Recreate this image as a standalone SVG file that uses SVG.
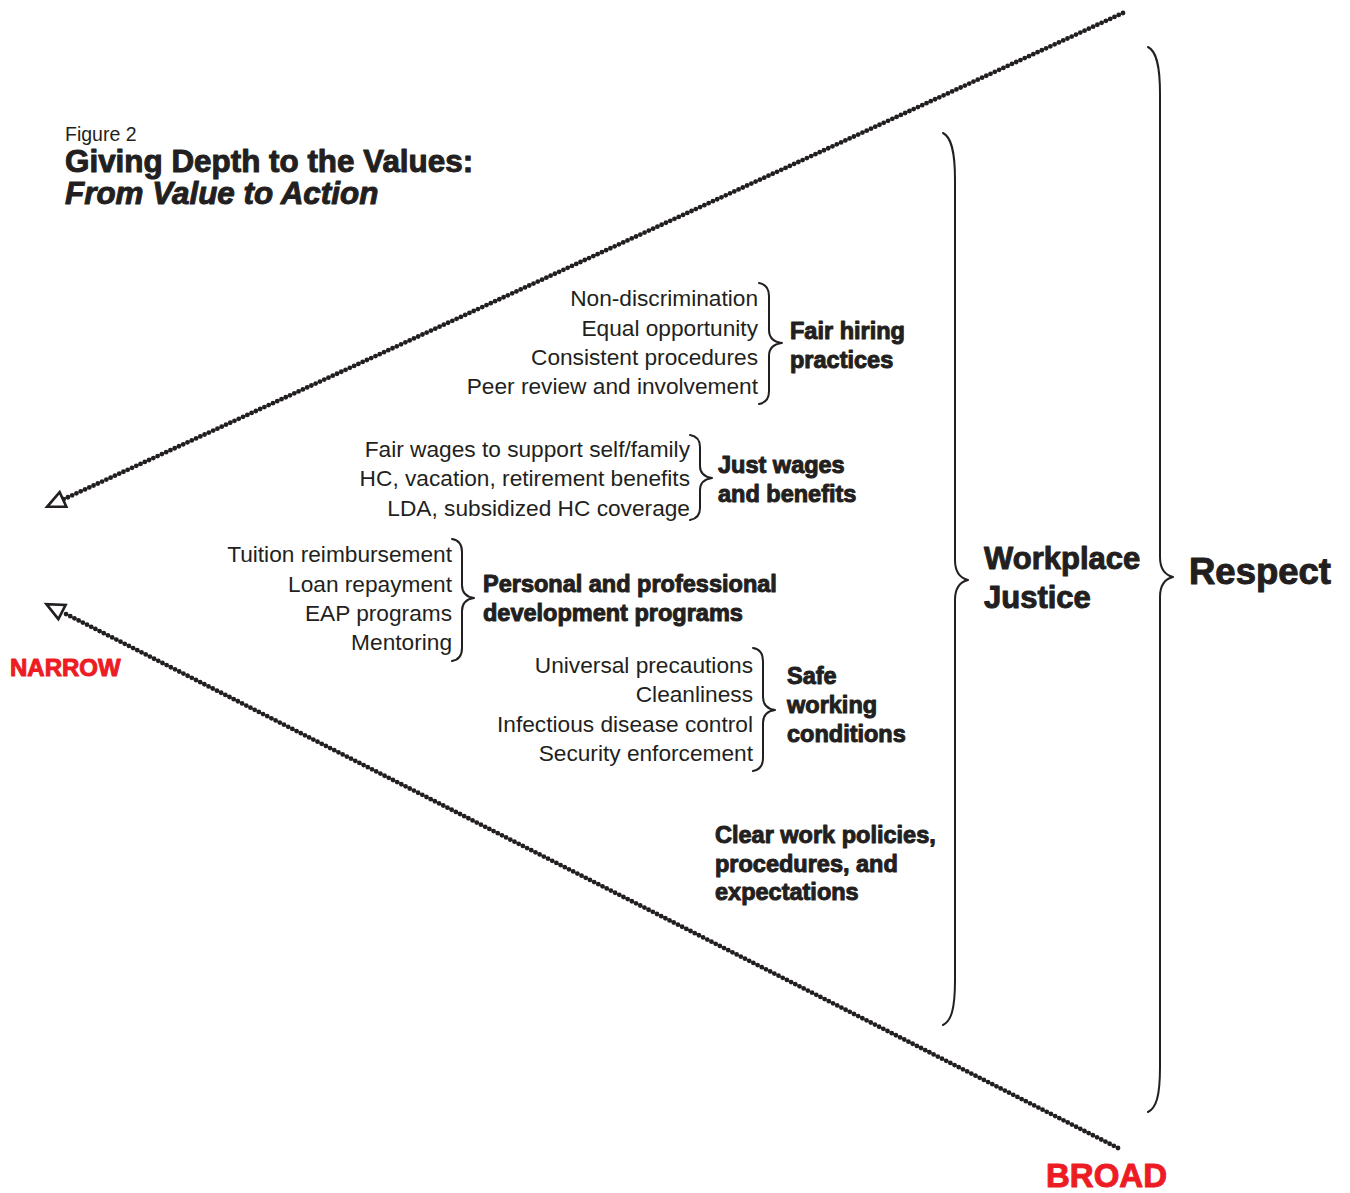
<svg xmlns="http://www.w3.org/2000/svg" width="1350" height="1193" viewBox="0 0 1350 1193">
  <style>
    .item { font-family: "Liberation Sans", Arial, sans-serif; font-size: 22.7px; fill: #231f20; text-anchor: end; }
    .hv { font-family: "Liberation Sans", Arial, sans-serif; font-weight: 700; fill: #231f20; stroke: #231f20; stroke-width: 1px; stroke-linejoin: round; }
    .lbl { font-size: 23.5px; }
    .red { fill: #ed1c24; stroke: #ed1c24; }
    .brace { fill: none; stroke: #231f20; stroke-width: 2; stroke-linecap: round; stroke-linejoin: round; }
    .dots { fill: none; stroke: #231f20; stroke-width: 4.8; stroke-linecap: round; stroke-dasharray: 0 4.7; }
  </style>
  <defs>
    <marker id="openhead" markerUnits="userSpaceOnUse" viewBox="-3 -11 24 22" markerWidth="24" markerHeight="22" refX="0" refY="0" orient="auto" overflow="visible">
      <path d="M0,-8 L17.5,0 L0,8 Z" fill="#ffffff" stroke="#231f20" stroke-width="2.6" stroke-linejoin="miter"/>
    </marker>
  </defs>
  <rect width="1350" height="1193" fill="#ffffff"/>

  <!-- title block -->
  <g id="title">
    <text x="65" y="141" font-family="Liberation Sans, Arial, sans-serif" font-size="19.5" fill="#231f20">Figure 2</text>
    <text class="hv" x="65" y="172" font-size="31.4">Giving Depth to the Values:</text>
    <text class="hv" x="65" y="204" font-size="31.4" font-style="italic">From Value to Action</text>
  </g>

  <!-- funnel lines -->
  <g id="connectors">
    <line class="dots" x1="1123" y1="13" x2="63" y2="499.5" marker-end="url(#openhead)"/>
    <line class="dots" x1="1118" y1="1148" x2="62" y2="612" marker-end="url(#openhead)"/>
  </g>

  <g id="narrow">
    <text class="hv red" x="10" y="676" font-size="24">NARROW</text>
  </g>
  <g id="broad">
    <text class="hv red" x="1046" y="1187" font-size="33">BROAD</text>
  </g>

  <!-- Fair hiring practices -->
  <g id="fair-hiring">
    <text class="item" x="758" y="306">Non-discrimination</text>
    <text class="item" x="758" y="336">Equal opportunity</text>
    <text class="item" x="758" y="365">Consistent procedures</text>
    <text class="item" x="758" y="394">Peer review and involvement</text>
    <path class="brace" d="M759,283 C765,284 769,288 769,296 L769,330 C769,338 774,342 782,343 C774,344 769,348 769,356 L769,391 C769,399 765,403 759,404"/>
    <text class="hv lbl" x="790" y="339">Fair hiring</text>
    <text class="hv lbl" x="790" y="368">practices</text>
  </g>

  <!-- Just wages and benefits -->
  <g id="just-wages">
    <text class="item" x="690" y="457">Fair wages to support self/family</text>
    <text class="item" x="690" y="486">HC, vacation, retirement benefits</text>
    <text class="item" x="690" y="516">LDA, subsidized HC coverage</text>
    <path class="brace" d="M690,435 C696,436 700,440 700,447 L700,466 C700,473 705,477 712,478 C705,479 700,483 700,490 L700,508 C700,515 696,519 690,520"/>
    <text class="hv lbl" x="718" y="473">Just wages</text>
    <text class="hv lbl" x="718" y="502">and benefits</text>
  </g>

  <!-- Personal and professional development programs -->
  <g id="development">
    <text class="item" x="452" y="562">Tuition reimbursement</text>
    <text class="item" x="452" y="592">Loan repayment</text>
    <text class="item" x="452" y="621">EAP programs</text>
    <text class="item" x="452" y="650">Mentoring</text>
    <path class="brace" d="M452,539 C458,540 462,544 462,552 L462,585 C462,593 467,597 474,598 C467,599 462,603 462,611 L462,648 C462,656 458,660 452,661"/>
    <text class="hv lbl" x="483" y="592">Personal and professional</text>
    <text class="hv lbl" x="483" y="621">development programs</text>
  </g>

  <!-- Safe working conditions -->
  <g id="safe-working">
    <text class="item" x="753" y="673">Universal precautions</text>
    <text class="item" x="753" y="702">Cleanliness</text>
    <text class="item" x="753" y="732">Infectious disease control</text>
    <text class="item" x="753" y="761">Security enforcement</text>
    <path class="brace" d="M753,648 C759,649 763,653 763,661 L763,697 C763,705 768,709 775,710 C768,711 763,715 763,723 L763,758 C763,766 759,770 753,771"/>
    <text class="hv lbl" x="787" y="684">Safe</text>
    <text class="hv lbl" x="787" y="713">working</text>
    <text class="hv lbl" x="787" y="742">conditions</text>
  </g>

  <!-- Clear work policies -->
  <g id="clear-policies">
    <text class="hv lbl" x="715" y="843">Clear work policies,</text>
    <text class="hv lbl" x="715" y="872">procedures, and</text>
    <text class="hv lbl" x="715" y="900">expectations</text>
  </g>

  <!-- Workplace Justice -->
  <g id="workplace-justice">
    <path class="brace" d="M943,133 C951,137 955,150 955,180 L955,560 C955,572 960,578 968,580 C960,582 955,588 955,600 L955,980 C955,1010 951,1021 943,1025"/>
    <text class="hv" x="984" y="569" font-size="31">Workplace</text>
    <text class="hv" x="984" y="608" font-size="31">Justice</text>
  </g>

  <!-- Respect -->
  <g id="respect">
    <path class="brace" d="M1148,47 C1156,51 1160,64 1160,94 L1160,557 C1160,569 1165,575 1173,577 C1165,579 1160,585 1160,597 L1160,1067 C1160,1097 1156,1108 1148,1112"/>
    <text class="hv" x="1189" y="584" font-size="36.5">Respect</text>
  </g>
</svg>
